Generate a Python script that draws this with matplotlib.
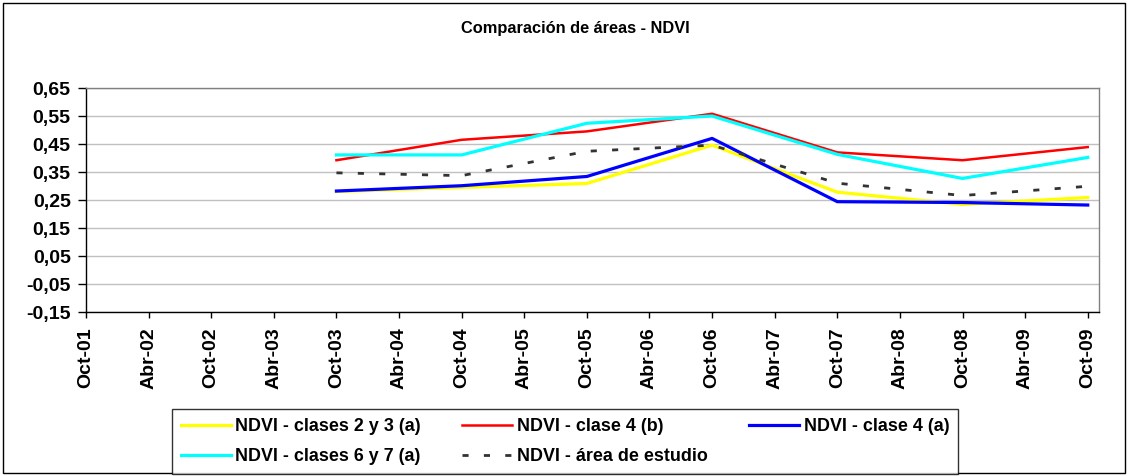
import matplotlib
matplotlib.use("Agg")
import matplotlib.pyplot as plt
from matplotlib.patches import Rectangle

plt.rcParams["font.family"] = ["Liberation Sans", "DejaVu Sans"]
plt.rcParams["font.weight"] = "bold"

# categories on the x axis (semiannual)
meses = ["Oct-01", "Abr-02", "Oct-02", "Abr-03", "Oct-03", "Abr-04", "Oct-04", "Abr-05",
         "Oct-05", "Abr-06", "Oct-06", "Abr-07", "Oct-07", "Abr-08", "Oct-08", "Abr-09", "Oct-09"]

# data only exists for October images
meses_datos = ["Oct-03", "Oct-04", "Oct-05", "Oct-06", "Oct-07", "Oct-08", "Oct-09"]

clases_2_3_a = [0.280, 0.295, 0.309, 0.446, 0.278, 0.234, 0.259]
clase_4_b = [0.392, 0.465, 0.495, 0.558, 0.420, 0.392, 0.439]
clase_4_a = [0.282, 0.301, 0.334, 0.470, 0.244, 0.241, 0.232]
clases_6_7_a = [0.411, 0.411, 0.524, 0.550, 0.413, 0.327, 0.402]
area_estudio = [0.347, 0.337, 0.424, 0.446, 0.310, 0.266, 0.299]

y_ticks = [-0.15, -0.05, 0.05, 0.15, 0.25, 0.35, 0.45, 0.55, 0.65]

fig = plt.figure(figsize=(11.28, 4.76), dpi=100)
ax = fig.add_axes([86 / 1128, 1 - 312 / 476, (1099 - 86) / 1128, (312 - 88) / 476])

x = [meses.index(m) for m in meses_datos]

l1, = ax.plot(x, clases_2_3_a, color="#FFFF00", lw=2.3, label="NDVI - clases 2 y 3 (a)")
l2, = ax.plot(x, clase_4_b, color="#FF0000", lw=1.8, label="NDVI - clase 4 (b)")
l3, = ax.plot(x, clase_4_a, color="#0000FF", lw=2.3, label="NDVI - clase 4 (a)")
l4, = ax.plot(x, clases_6_7_a, color="#00FFFF", lw=2.3, label="NDVI - clases 6 y 7 (a)")
l5, = ax.plot(x, area_estudio, color="#333333", lw=2.0, dashes=(2.2, 5.5),
              label="NDVI - área de estudio")

ax.set_xlim(0, len(meses) - 1 + 0.18)
ax.set_ylim(-0.15, 0.65)
ax.set_xticks(range(len(meses)))
ax.set_xticklabels(meses, rotation=90, fontsize=14, fontweight="bold")
ax.set_yticks(y_ticks)
ax.set_yticklabels([f"{v:.2f}".replace(".", ",") for v in y_ticks], fontsize=14, fontweight="bold")
ax.tick_params(axis="x", length=4, width=1, pad=7, color="#000000")
ax.tick_params(axis="y", length=6, width=1, pad=5, color="#000000")

ax.grid(axis="y", color="#C0C0C0", lw=1)
ax.set_axisbelow(True)
ax.spines["top"].set_color("#808080")
ax.spines["right"].set_color("#808080")
ax.spines["left"].set_color("#000000")
ax.spines["bottom"].set_color("#000000")
for s in ax.spines.values():
    s.set_linewidth(1)

fig.text(575 / 1128, 1 - 28 / 476, "Comparación de áreas - NDVI", ha="center", va="center",
         fontsize=11.8, fontweight="bold")

# column-major order so rows read: yellow, red, blue / cyan, dashed
leg = fig.legend([l1, l4, l2, l5, l3], [l.get_label() for l in [l1, l4, l2, l5, l3]],
                 ncol=3, loc="center", bbox_to_anchor=(565 / 1128, 1 - 441.5 / 476),
                 prop={"size": 12.9, "weight": "bold"}, frameon=True, fancybox=False,
                 edgecolor="#000000", handlelength=2.8, handletextpad=0.25,
                 columnspacing=2.3, labelspacing=0.7, borderpad=0.5)
leg.get_frame().set_linewidth(1)

fig.patches.append(Rectangle((3 / 1128, 3 / 476), 1122 / 1128, 470 / 476, transform=fig.transFigure,
                             fill=False, edgecolor="#000000", lw=1))

fig.savefig("out.png", dpi=100)
